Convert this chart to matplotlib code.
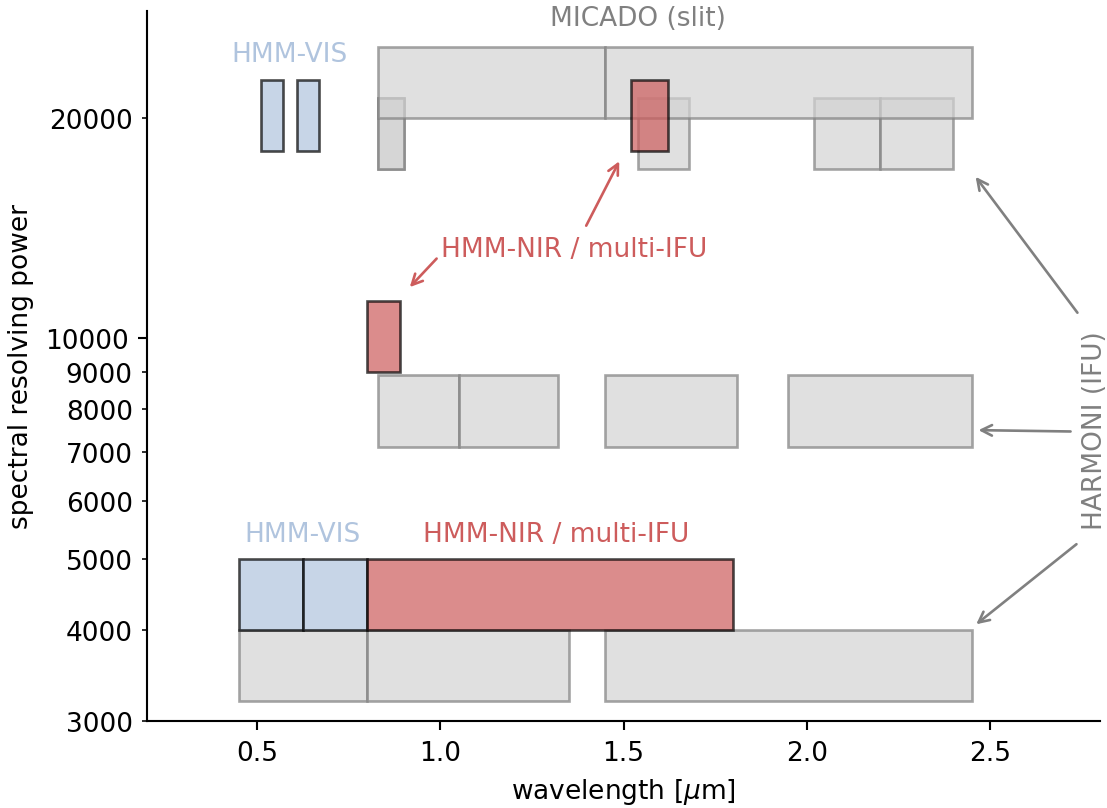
import matplotlib
matplotlib.use("Agg")
import matplotlib.pyplot as plt
from matplotlib.patches import Rectangle

# wavelength bands [um] and resolving power ranges (lo, hi)
harmoni_low_bands = [(0.45, 0.80), (0.80, 1.35), (1.45, 2.45)]
harmoni_low_R = (3200, 4000)
harmoni_mid_bands = [(0.83, 1.05), (1.05, 1.32), (1.45, 1.81), (1.95, 2.45)]
harmoni_mid_R = (7100, 8900)
# z-high band appears twice in the original
harmoni_high_bands = [(0.83, 0.90), (0.83, 0.90), (1.54, 1.68), (2.02, 2.20), (2.20, 2.40)]
harmoni_high_R = (17000, 21250)
micado_bands = [(0.83, 1.45), (1.45, 2.45)]
micado_R = (20000, 25000)

hmm_vis_low_bands = [(0.45, 0.625), (0.625, 0.80)]
hmm_nir_low_bands = [(0.80, 1.80)]
hmm_low_R = (4000, 5000)
hmm_nir_mid_bands = [(0.80, 0.89)]
hmm_mid_R = (9000, 11250)
hmm_vis_high_bands = [(0.51, 0.57), (0.61, 0.67)]
hmm_nir_high_bands = [(1.52, 1.62)]
hmm_high_R = (18000, 22500)

xticks = [0.5, 1.0, 1.5, 2.0, 2.5]
xtick_labels = ["0.5", "1.0", "1.5", "2.0", "2.5"]
ytick_major = [10000]
ytick_major_labels = ["10000"]
ytick_minor = [3000, 4000, 5000, 6000, 7000, 8000, 9000, 20000]
ytick_minor_labels = ["3000", "4000", "5000", "6000", "7000", "8000", "9000", "20000"]


def add_boxes(ax, bands, R, fc, ec):
    for x0, x1 in bands:
        ax.add_patch(Rectangle((x0, R[0]), x1 - x0, R[1] - R[0],
                               facecolor=fc, edgecolor=ec, lw=1.0, alpha=0.7))


fig = plt.figure(figsize=(1107 / 190, 809 / 190), dpi=190)
ax = fig.add_axes([0.1328, 0.1075, 0.8609, 0.878])
ax.set_yscale("log")

# HARMONI + MICADO
for bands, R in [(harmoni_low_bands, harmoni_low_R), (harmoni_mid_bands, harmoni_mid_R),
                 (harmoni_high_bands, harmoni_high_R), (micado_bands, micado_R)]:
    add_boxes(ax, bands, R, "lightgray", "gray")

# HMM
add_boxes(ax, hmm_vis_low_bands, hmm_low_R, "lightsteelblue", "k")
add_boxes(ax, hmm_nir_low_bands, hmm_low_R, "indianred", "k")
add_boxes(ax, hmm_nir_mid_bands, hmm_mid_R, "indianred", "k")
add_boxes(ax, hmm_vis_high_bands, hmm_high_R, "lightsteelblue", "k")
add_boxes(ax, hmm_nir_high_bands, hmm_high_R, "indianred", "k")

ax.set_xlim(0.2, 2.8)
ax.set_ylim(3000, 28000)

ax.set_xticks(xticks, xtick_labels)
ax.set_yticks(ytick_major, ytick_major_labels)
ax.set_yticks(ytick_minor, ytick_minor_labels, minor=True)
ax.tick_params(labelsize=10)
ax.tick_params(which="minor", labelsize=10)

ax.spines["top"].set_visible(False)
ax.spines["right"].set_visible(False)

ax.set_xlabel(r"wavelength [$\mu$m]", fontsize=10)
ax.set_ylabel("spectral resolving power", fontsize=10)

# labels
ax.text(1.54, 27400, "MICADO (slit)", color="gray", fontsize=10, ha="center", va="center")
ax.text(0.59, 24400, "HMM-VIS", color="lightsteelblue", fontsize=10, ha="center", va="center")
ax.text(0.625, 5400, "HMM-VIS", color="lightsteelblue", fontsize=10, ha="center", va="center")
ax.text(1.317, 5400, "HMM-NIR / multi-IFU", color="indianred", fontsize=10, ha="center", va="center")

# HMM-NIR label with arrows
ax.annotate("HMM-NIR / multi-IFU", xy=(1.495, 17700), xytext=(1.366, 13250),
            color="indianred", fontsize=10, ha="center", va="center",
            arrowprops=dict(arrowstyle="->", color="indianred", lw=1.0))
ax.annotate("", xy=(0.907, 11600), xytext=(1.0, 13000),
            arrowprops=dict(arrowstyle="->", color="indianred", lw=1.0))

# HARMONI label with arrows
ax.text(2.787, 7500, "HARMONI (IFU)", color="gray", fontsize=10,
        rotation=90, ha="center", va="center")
harmoni_arrows = [((2.452, 16830), (2.747, 10690)),
                  ((2.454, 7490), (2.734, 7455)),
                  ((2.451, 4025), (2.747, 5286))]
for xy, xytext in harmoni_arrows:
    ax.annotate("", xy=xy, xytext=xytext,
                arrowprops=dict(arrowstyle="->", color="gray", lw=1.0))

plt.savefig("out.png", dpi=190)
